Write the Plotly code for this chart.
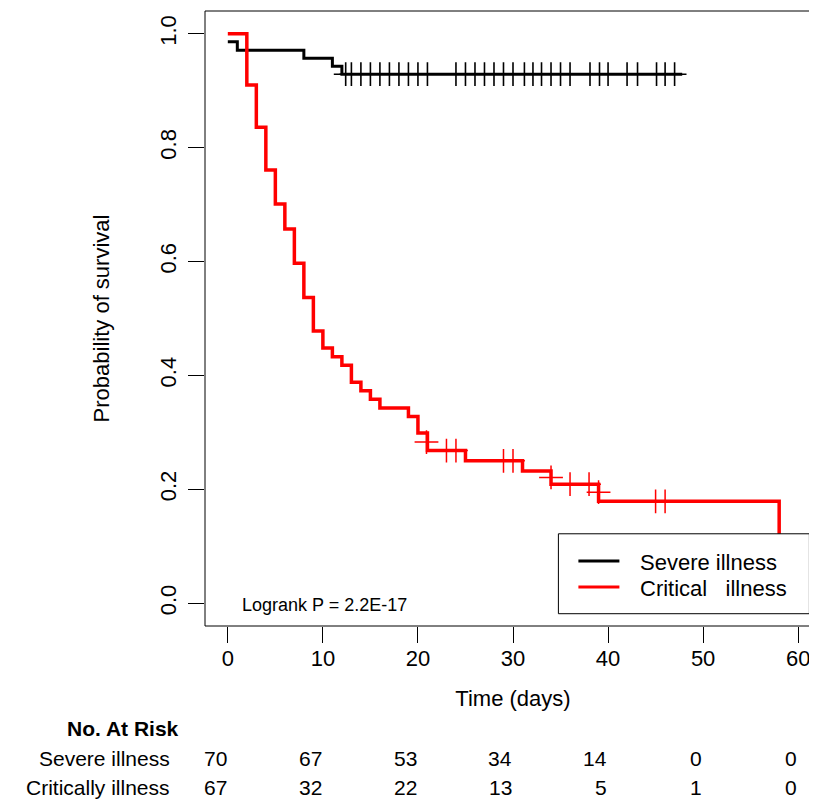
import plotly.graph_objects as go

# Kaplan-Meier steps
severe_t = [0, 1, 8, 11, 12, 47.8]
severe_s = [0.986, 0.971, 0.957, 0.943, 0.929, 0.929]
severe_cens_t = [12.4, 13, 14, 15, 16, 17, 18, 19, 20, 21, 24, 25, 26, 27, 28, 29, 30,
                 31.2, 32.1, 33, 34, 35, 36, 38.1, 39.1, 40, 42, 43.1, 45.1, 46, 47]
severe_cens_s = [0.929] * len(severe_cens_t)

critical_t = [0, 2, 3, 4, 5, 6, 7, 8, 9, 10, 11, 12, 13, 14, 15, 16, 19, 20, 21, 25, 31, 34, 39, 58]
critical_s = [1.0, 0.910, 0.836, 0.761, 0.701, 0.657, 0.597, 0.537, 0.478, 0.448, 0.433, 0.418,
              0.388, 0.373, 0.358, 0.343, 0.328, 0.299, 0.268, 0.250, 0.232, 0.209, 0.179, 0.0]
critical_cens_t = [20.9, 23, 24, 29, 30, 34, 36, 38, 39, 45, 46]
critical_cens_s = [0.283, 0.268, 0.268, 0.250, 0.250, 0.221, 0.209, 0.209, 0.195, 0.179, 0.179]

# number at risk table
risk_times = [0, 10, 20, 30, 40, 50, 60]
risk_severe = [70, 67, 53, 34, 14, 0, 0]
risk_critical = [67, 32, 22, 13, 5, 1, 0]

FONT = "Liberation Sans, Arial, sans-serif"

# pixel -> paper helpers (plot area 197.3..813.3 x 2.7..618.3)
def px(x):
    return (x - 197.3) / 616.0

def py(y):
    return (618.3 - y) / 615.6

fig = go.Figure()

fig.add_trace(go.Scatter(x=severe_t, y=severe_s, mode="lines", line_shape="hv",
                         line=dict(color="black", width=3), name="Severe illness"))
fig.add_trace(go.Scatter(x=critical_t, y=critical_s, mode="lines", line_shape="hv",
                         line=dict(color="#ff0000", width=3.5), name="Critical illness"))
fig.add_trace(go.Scatter(x=severe_cens_t, y=severe_cens_s, mode="markers",
                         marker=dict(symbol="cross-thin", size=17, line=dict(color="black", width=1.6)),
                         hoverinfo="skip"))
fig.add_trace(go.Scatter(x=critical_cens_t, y=critical_cens_s, mode="markers",
                         marker=dict(symbol="cross-thin", size=17, line=dict(color="#ff0000", width=1.5)),
                         hoverinfo="skip"))

shapes = [
    # plot frame
    dict(type="rect", xref="paper", yref="paper", x0=0, x1=1, y0=0, y1=1,
         line=dict(color="black", width=1), layer="above"),
    # legend box (covers the final drop, as in the original)
    dict(type="rect", xref="paper", yref="paper", x0=px(550.7), x1=px(801.7), y0=py(606), y1=py(526),
         line=dict(color="black", width=1), fillcolor="white", layer="above"),
    dict(type="line", xref="paper", yref="paper", x0=px(570.7), x1=px(611.7), y0=py(553.3), y1=py(553.3),
         line=dict(color="black", width=3), layer="above"),
    dict(type="line", xref="paper", yref="paper", x0=px(570.7), x1=px(611.7), y0=py(579.3), y1=py(579.3),
         line=dict(color="#ff0000", width=3), layer="above"),
]

ann = [
    dict(text="Severe illness", x=px(630), y=py(555), xref="paper", yref="paper",
         xanchor="left", yanchor="middle", showarrow=False, font=dict(size=22)),
    dict(text="Critical\u00a0\u00a0\u00a0illness", x=px(630), y=py(581), xref="paper", yref="paper",
         xanchor="left", yanchor="middle", showarrow=False, font=dict(size=22)),
    dict(text="Logrank P = 2.2E-17", x=px(232), y=py(597), xref="paper", yref="paper",
         xanchor="left", yanchor="middle", showarrow=False, font=dict(size=18)),
    dict(text="<b>No. At Risk</b>", x=px(173), y=py(721), xref="paper", yref="paper",
         xanchor="right", yanchor="middle", showarrow=False, font=dict(size=21)),
    dict(text="Severe illness", x=px(164), y=py(751), xref="paper", yref="paper",
         xanchor="right", yanchor="middle", showarrow=False, font=dict(size=21)),
    dict(text="Critically illness", x=px(164), y=py(780), xref="paper", yref="paper",
         xanchor="right", yanchor="middle", showarrow=False, font=dict(size=21)),
]
for t, a, b in zip(risk_times, risk_severe, risk_critical):
    ann.append(dict(text=str(a), x=t, y=py(751), xref="x", yref="paper", xanchor="right",
                    yanchor="middle", xshift=1, showarrow=False, font=dict(size=21)))
    ann.append(dict(text=str(b), x=t, y=py(780), xref="x", yref="paper", xanchor="right",
                    yanchor="middle", xshift=1, showarrow=False, font=dict(size=21)))

fig.update_layout(
    width=817, height=800,
    margin=dict(l=197, r=4, t=3, b=182),
    paper_bgcolor="white", plot_bgcolor="white",
    font=dict(family=FONT, color="black", size=22),
    showlegend=False,
    shapes=shapes, annotations=ann,
    xaxis=dict(range=[-2.4, 62.4], tickvals=risk_times, ticks="outside", ticklen=16,
               tickcolor="black", tickwidth=1, showgrid=False, zeroline=False, showline=False,
               ticklabelstandoff=-3, tickfont=dict(size=22),
               title=dict(text="Time (days)", font=dict(size=22), standoff=20)),
    yaxis=dict(range=[-0.04, 1.04], tickvals=[0, 0.2, 0.4, 0.6, 0.8, 1.0], tickformat=".1f",
               tickangle=-90, ticks="outside", ticklen=16, tickcolor="black", tickwidth=1,
               showgrid=False, zeroline=False, showline=False, ticklabelstandoff=3,
               tickfont=dict(size=22),
               title=dict(text="Probability of survival", font=dict(size=22), standoff=40)),
)

fig.write_html("out.html")
